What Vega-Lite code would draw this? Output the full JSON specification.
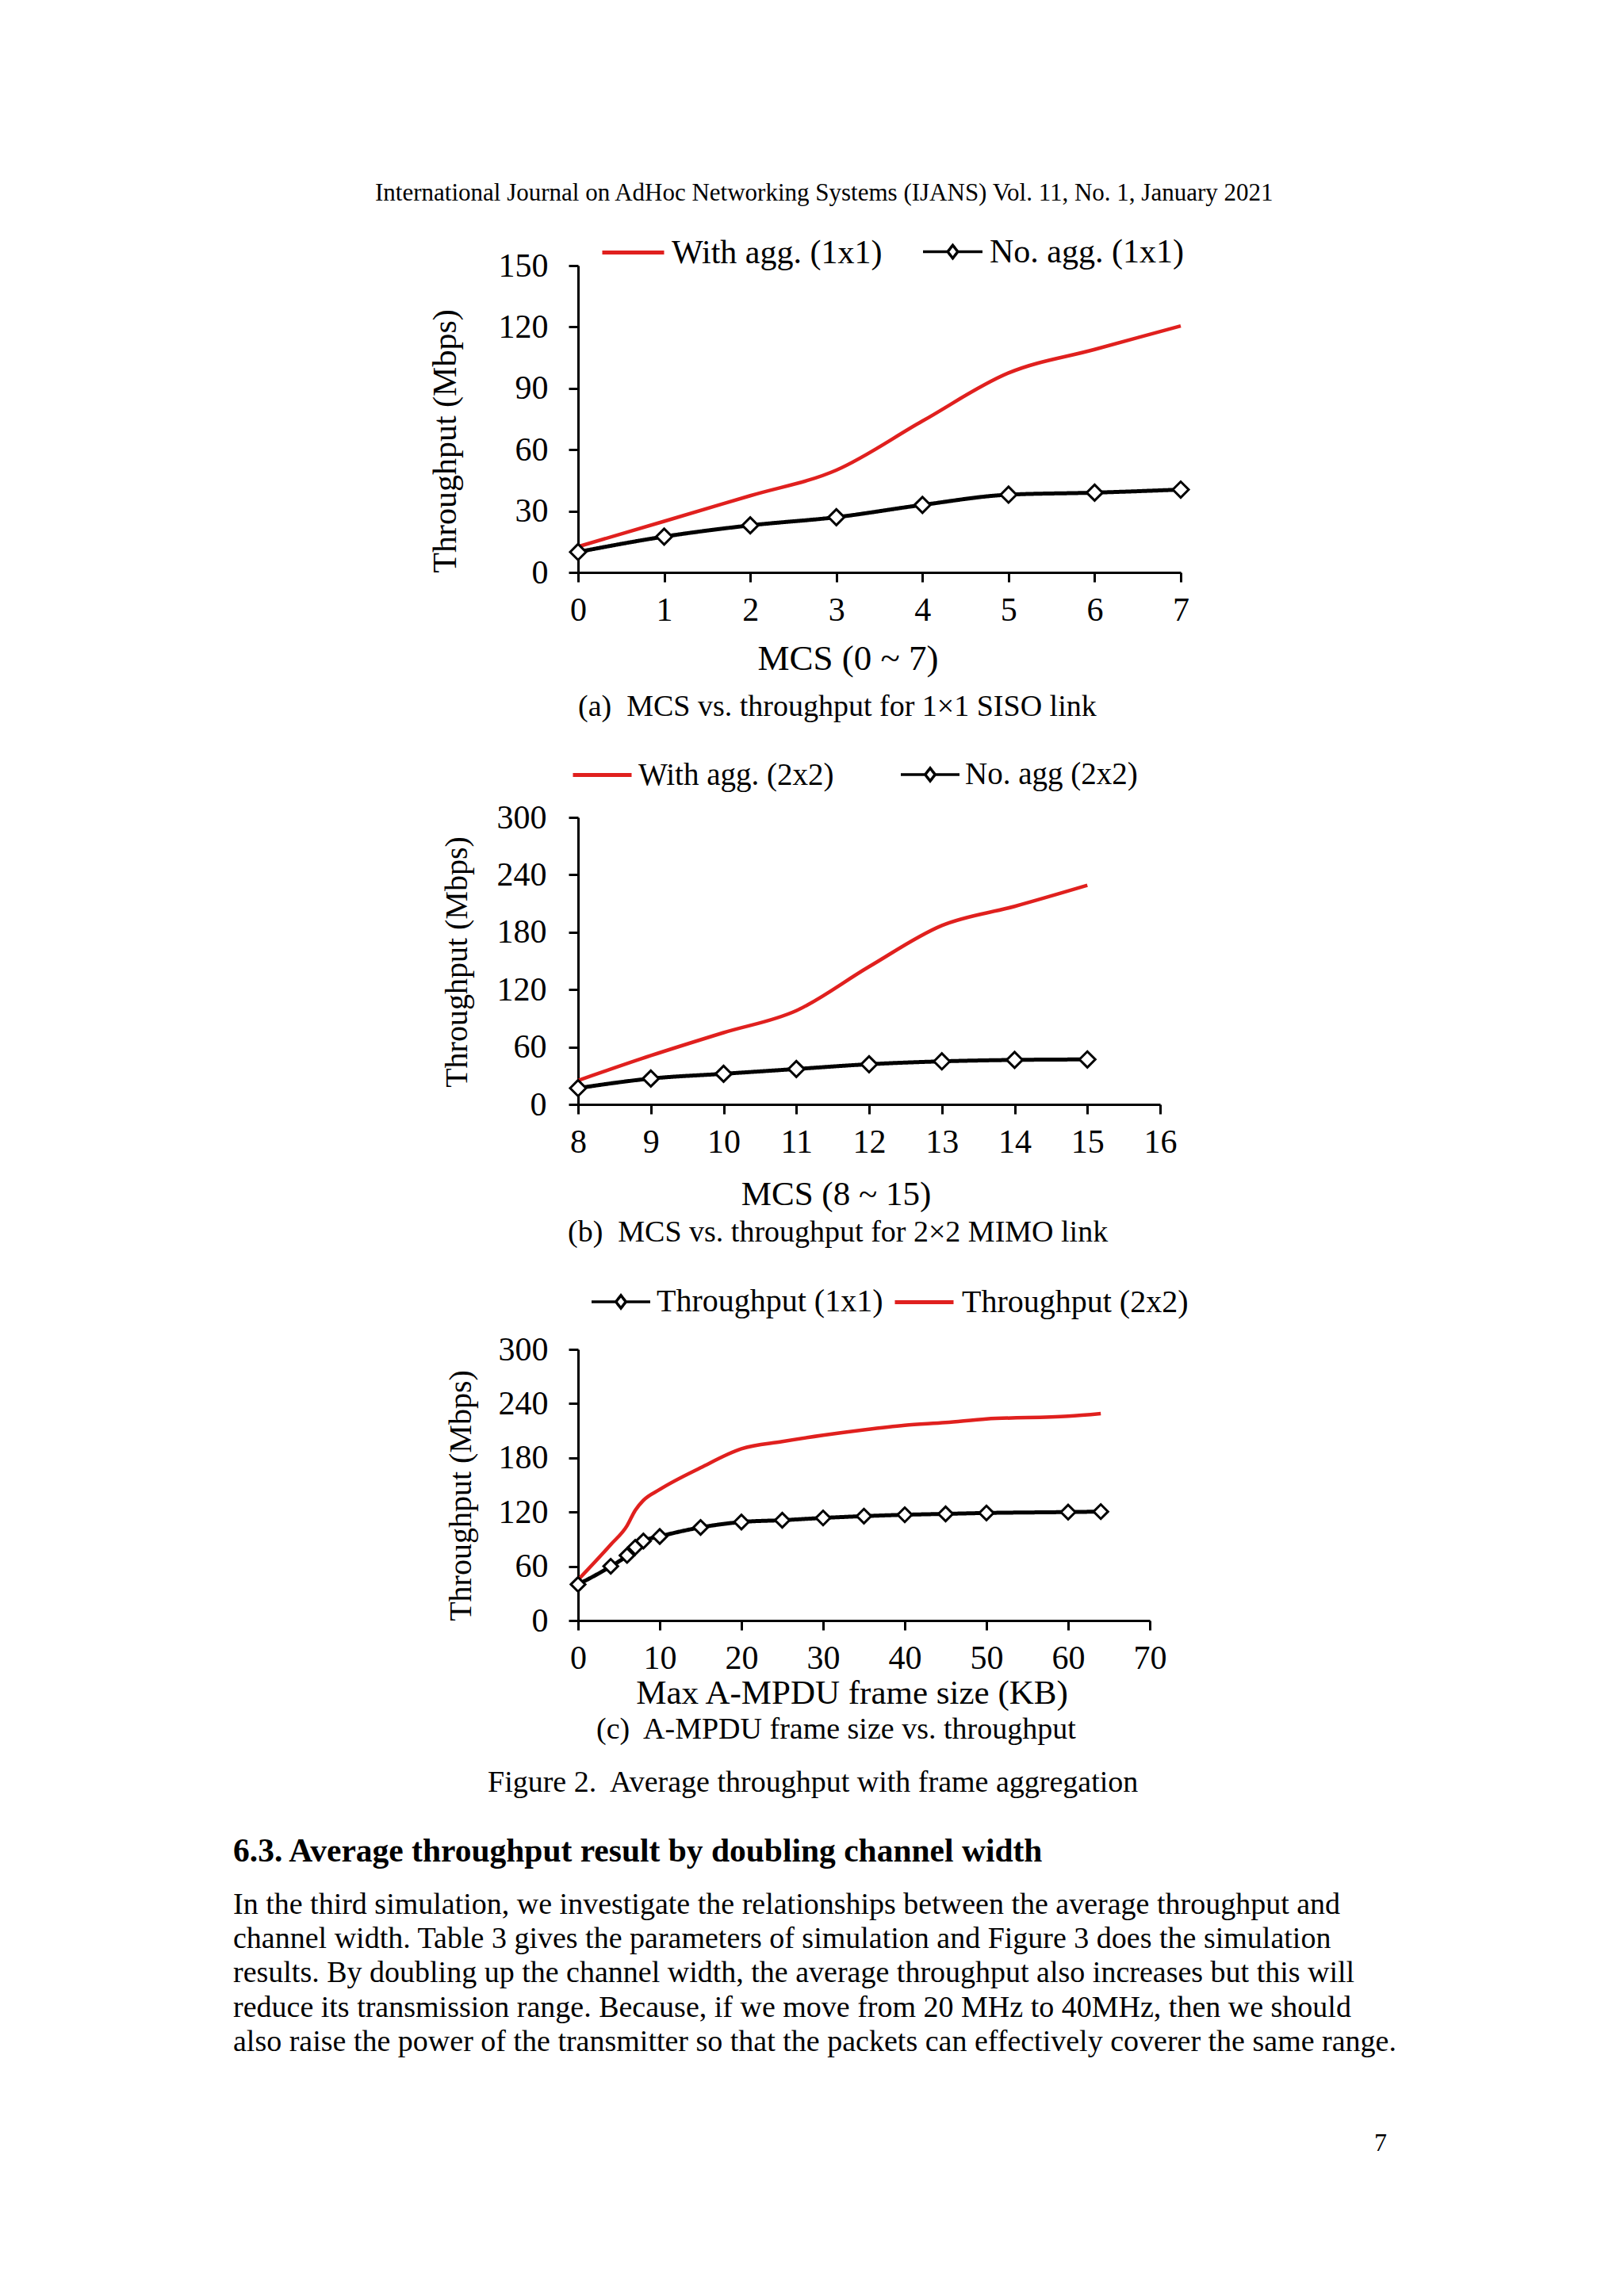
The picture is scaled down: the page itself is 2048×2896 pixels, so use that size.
{
  "$schema": "https://vega.github.io/schema/vega-lite/v6.json",
  "background": "white",
  "padding": {"left": 294, "top": 228, "right": 10, "bottom": 10},
  "title": {"text": "International Journal on AdHoc Networking Systems (IJANS) Vol. 11, No. 1, January 2021", "anchor": "start", "frame": "group", "dx": -256, "offset": 17, "fontSize": 31, "font": "Liberation Serif", "fontWeight": "normal", "color": "black"},
  "bounds": "flush",
  "spacing": 309,
  "resolve": {"scale": {"color": "independent", "strokeDash": "independent"}, "legend": {"color": "independent", "strokeDash": "independent"}},
  "config": {
    "view": {"stroke": null},
    "font": "Liberation Serif",
    "axis": {"domainColor": "black", "domainWidth": 3, "tickColor": "black", "tickWidth": 3, "tickSize": 12, "labelColor": "black", "titleColor": "black", "labelFont": "Liberation Serif", "titleFont": "Liberation Serif", "titleFontWeight": "normal", "grid": false, "labelFontSize": 42, "titleFontSize": 42, "labelPadding": 15, "labelFlush": false, "labelOverlap": false},
    "legend": {"labelFont": "Liberation Serif", "labelColor": "black", "padding": 0, "title": null, "direction": "horizontal", "labelLimit": 800},
    "title": {"font": "Liberation Serif", "fontWeight": "normal", "color": "black", "fontSize": 38}
  },
  "datasets": {
    "a_agg": [
      {"mcs": 0, "throughput": 12.6, "series": "With agg. (1x1)"},
      {"mcs": 1, "throughput": 25, "series": "With agg. (1x1)"},
      {"mcs": 2, "throughput": 37.5, "series": "With agg. (1x1)"},
      {"mcs": 3, "throughput": 50, "series": "With agg. (1x1)"},
      {"mcs": 4, "throughput": 74, "series": "With agg. (1x1)"},
      {"mcs": 5, "throughput": 97.5, "series": "With agg. (1x1)"},
      {"mcs": 6, "throughput": 109, "series": "With agg. (1x1)"},
      {"mcs": 7, "throughput": 120.5, "series": "With agg. (1x1)"}
    ],
    "a_noagg": [
      {"mcs": 0, "throughput": 10, "series": "No. agg. (1x1)"},
      {"mcs": 1, "throughput": 17.5, "series": "No. agg. (1x1)"},
      {"mcs": 2, "throughput": 23, "series": "No. agg. (1x1)"},
      {"mcs": 3, "throughput": 27, "series": "No. agg. (1x1)"},
      {"mcs": 4, "throughput": 33, "series": "No. agg. (1x1)"},
      {"mcs": 5, "throughput": 38, "series": "No. agg. (1x1)"},
      {"mcs": 6, "throughput": 39, "series": "No. agg. (1x1)"},
      {"mcs": 7, "throughput": 40.5, "series": "No. agg. (1x1)"}
    ],
    "b_agg": [
      {"mcs": 8, "throughput": 25, "series": "With agg. (2x2)"},
      {"mcs": 9, "throughput": 51, "series": "With agg. (2x2)"},
      {"mcs": 10, "throughput": 75, "series": "With agg. (2x2)"},
      {"mcs": 11, "throughput": 98, "series": "With agg. (2x2)"},
      {"mcs": 12, "throughput": 144, "series": "With agg. (2x2)"},
      {"mcs": 13, "throughput": 187, "series": "With agg. (2x2)"},
      {"mcs": 14, "throughput": 207, "series": "With agg. (2x2)"},
      {"mcs": 15, "throughput": 229, "series": "With agg. (2x2)"}
    ],
    "b_noagg": [
      {"mcs": 8, "throughput": 17, "series": "No. agg (2x2)"},
      {"mcs": 9, "throughput": 27, "series": "No. agg (2x2)"},
      {"mcs": 10, "throughput": 32, "series": "No. agg (2x2)"},
      {"mcs": 11, "throughput": 37, "series": "No. agg (2x2)"},
      {"mcs": 12, "throughput": 42, "series": "No. agg (2x2)"},
      {"mcs": 13, "throughput": 45, "series": "No. agg (2x2)"},
      {"mcs": 14, "throughput": 46.5, "series": "No. agg (2x2)"},
      {"mcs": 15, "throughput": 47, "series": "No. agg (2x2)"}
    ],
    "c_1x1": [
      {"size": 0, "throughput": 40, "series": "Throughput (1x1)"},
      {"size": 4, "throughput": 60, "series": "Throughput (1x1)"},
      {"size": 6, "throughput": 72, "series": "Throughput (1x1)"},
      {"size": 7, "throughput": 81, "series": "Throughput (1x1)"},
      {"size": 8, "throughput": 88, "series": "Throughput (1x1)"},
      {"size": 10, "throughput": 93, "series": "Throughput (1x1)"},
      {"size": 15, "throughput": 103, "series": "Throughput (1x1)"},
      {"size": 20, "throughput": 109, "series": "Throughput (1x1)"},
      {"size": 25, "throughput": 111, "series": "Throughput (1x1)"},
      {"size": 30, "throughput": 113.5, "series": "Throughput (1x1)"},
      {"size": 35, "throughput": 115.5, "series": "Throughput (1x1)"},
      {"size": 40, "throughput": 117, "series": "Throughput (1x1)"},
      {"size": 45, "throughput": 118, "series": "Throughput (1x1)"},
      {"size": 50, "throughput": 119, "series": "Throughput (1x1)"},
      {"size": 60, "throughput": 120, "series": "Throughput (1x1)"},
      {"size": 64, "throughput": 120.5, "series": "Throughput (1x1)"}
    ],
    "c_2x2": [
      {"size": 0, "throughput": 45, "series": "Throughput (2x2)"},
      {"size": 4, "throughput": 84, "series": "Throughput (2x2)"},
      {"size": 6, "throughput": 105, "series": "Throughput (2x2)"},
      {"size": 7, "throughput": 122, "series": "Throughput (2x2)"},
      {"size": 8, "throughput": 133, "series": "Throughput (2x2)"},
      {"size": 10, "throughput": 145, "series": "Throughput (2x2)"},
      {"size": 15, "throughput": 169, "series": "Throughput (2x2)"},
      {"size": 20, "throughput": 190, "series": "Throughput (2x2)"},
      {"size": 25, "throughput": 198, "series": "Throughput (2x2)"},
      {"size": 30, "throughput": 205, "series": "Throughput (2x2)"},
      {"size": 35, "throughput": 211, "series": "Throughput (2x2)"},
      {"size": 40, "throughput": 216, "series": "Throughput (2x2)"},
      {"size": 45, "throughput": 219, "series": "Throughput (2x2)"},
      {"size": 50, "throughput": 223, "series": "Throughput (2x2)"},
      {"size": 60, "throughput": 226, "series": "Throughput (2x2)"},
      {"size": 64, "throughput": 229, "series": "Throughput (2x2)"}
    ],
    "fig_caption": [{"line": 0, "text": "Figure 2.\u00a0 Average throughput with frame aggregation"}],
    "heading": [{"line": 1, "text": "6.3. Average throughput result by doubling channel width"}],
    "paragraph": [
      {"line": 2, "text": "In the third simulation, we investigate the relationships between the average throughput and"},
      {"line": 3, "text": "channel width. Table 3 gives the parameters of simulation and Figure 3 does the simulation"},
      {"line": 4, "text": "results. By doubling up the channel width, the average throughput also increases but this will"},
      {"line": 5, "text": "reduce its transmission range. Because, if we move from 20 MHz to 40MHz, then we should"},
      {"line": 6, "text": "also raise the power of the transmitter so that the packets can effectively coverer the same range."}
    ],
    "page_number": [{"line": 9, "text": "7"}]
  },
  "vconcat": [
    {
      "width": 760,
      "height": 387,
      "title": {"text": "(a)\u00a0 MCS vs. throughput for 1×1 SISO link", "orient": "bottom", "anchor": "start", "frame": "group", "offset": 20, "fontSize": 38},
      "encoding": {
        "x": {"field": "mcs", "type": "quantitative", "scale": {"domain": [0, 7], "nice": false}, "axis": {"values": [0, 1, 2, 3, 4, 5, 6, 7], "format": "d", "title": "MCS (0 ~ 7)", "titleFontSize": 45, "titleX": 340, "titlePadding": 18}},
        "y": {"field": "throughput", "type": "quantitative", "scale": {"domain": [0, 150], "nice": false}, "axis": {"values": [0, 30, 60, 90, 120, 150], "title": "Throughput (Mbps)", "titleY": 221, "titlePadding": 45, "labelPadding": 26}}
      },
      "layer": [
        {
          "data": {"name": "a_agg"},
          "mark": {"type": "line", "interpolate": "monotone", "strokeWidth": 4.5},
          "encoding": {"color": {"field": "series", "type": "nominal", "scale": {"domain": ["With agg. (1x1)"], "range": ["#e0201e"]}, "legend": {"orient": "none", "legendX": 28, "legendY": -58, "symbolType": "stroke", "symbolSize": 6084, "symbolStrokeWidth": 5, "labelFontSize": 42, "labelOffset": 7}}}
        },
        {
          "data": {"name": "a_noagg"},
          "mark": {"type": "line", "interpolate": "monotone", "strokeWidth": 5, "color": "black"},
          "encoding": {"strokeDash": {"field": "series", "type": "nominal", "scale": {"domain": ["No. agg. (1x1)"], "range": [[1, 0]]}, "legend": {"orient": "none", "legendX": 433, "legendY": -57, "symbolType": "M-1,0H-0.17M0.17,0H1M0,-0.22L0.17,0L0,0.22L-0.17,0Z", "symbolSize": 5625, "symbolStrokeWidth": 3.5, "symbolStrokeColor": "black", "symbolFillColor": "white", "labelFontSize": 42, "labelOffset": 7}}}
        },
        {
          "data": {"name": "a_noagg"},
          "mark": {"type": "point", "shape": "diamond", "filled": true, "fill": "white", "stroke": "black", "strokeWidth": 3, "size": 400, "opacity": 1}
        }
      ]
    },
    {
      "width": 734,
      "height": 362,
      "title": {"text": "(b)\u00a0 MCS vs. throughput for 2×2 MIMO link", "orient": "bottom", "anchor": "start", "frame": "group", "dx": -13, "offset": 8, "fontSize": 38},
      "encoding": {
        "x": {"field": "mcs", "type": "quantitative", "scale": {"domain": [8, 16], "nice": false, "zero": false}, "axis": {"values": [8, 9, 10, 11, 12, 13, 14, 15, 16], "format": "d", "title": "MCS (8 ~ 15)", "titleFontSize": 43, "titleX": 325, "titlePadding": 24}},
        "y": {"field": "throughput", "type": "quantitative", "scale": {"domain": [0, 300], "nice": false}, "axis": {"values": [0, 60, 120, 180, 240, 300], "title": "Throughput (Mbps)", "titleFontSize": 40, "titleY": 182, "titlePadding": 30, "labelPadding": 28}}
      },
      "layer": [
        {
          "data": {"name": "b_agg"},
          "mark": {"type": "line", "interpolate": "monotone", "strokeWidth": 4.5},
          "encoding": {"color": {"field": "series", "type": "nominal", "scale": {"domain": ["With agg. (2x2)"], "range": ["#e0201e"]}, "legend": {"orient": "none", "legendX": -9, "legendY": -93, "symbolType": "stroke", "symbolSize": 5476, "symbolStrokeWidth": 5, "labelFontSize": 39, "labelOffset": 6}}}
        },
        {
          "data": {"name": "b_noagg"},
          "mark": {"type": "line", "interpolate": "monotone", "strokeWidth": 5, "color": "black"},
          "encoding": {"strokeDash": {"field": "series", "type": "nominal", "scale": {"domain": ["No. agg (2x2)"], "range": [[1, 0]]}, "legend": {"orient": "none", "legendX": 405, "legendY": -93, "symbolType": "M-1,0H-0.17M0.17,0H1M0,-0.22L0.17,0L0,0.22L-0.17,0Z", "symbolSize": 5476, "symbolStrokeWidth": 3.5, "symbolStrokeColor": "black", "symbolFillColor": "white", "labelFontSize": 39, "labelOffset": 5}}}
        },
        {
          "data": {"name": "b_noagg"},
          "mark": {"type": "point", "shape": "diamond", "filled": true, "fill": "white", "stroke": "black", "strokeWidth": 3, "size": 400, "opacity": 1}
        }
      ]
    },
    {
      "width": 721,
      "height": 342,
      "title": {"text": "(c)\u00a0 A-MPDU frame size vs. throughput", "orient": "bottom", "anchor": "start", "frame": "group", "dx": 23, "offset": 6, "fontSize": 38},
      "encoding": {
        "x": {"field": "size", "type": "quantitative", "scale": {"domain": [0, 70], "nice": false}, "axis": {"values": [0, 10, 20, 30, 40, 50, 60, 70], "format": "d", "title": "Max A-MPDU frame size (KB)", "titleFontSize": 43, "titleX": 345, "titlePadding": 2}},
        "y": {"field": "throughput", "type": "quantitative", "scale": {"domain": [0, 300], "nice": false}, "axis": {"values": [0, 60, 120, 180, 240, 300], "title": "Throughput (Mbps)", "titleFontSize": 40, "titleY": 184, "titlePadding": 27, "labelPadding": 26}}
      },
      "layer": [
        {
          "data": {"name": "c_2x2"},
          "mark": {"type": "line", "interpolate": "monotone", "strokeWidth": 4.5},
          "encoding": {"color": {"field": "series", "type": "nominal", "scale": {"domain": ["Throughput (2x2)"], "range": ["#e0201e"]}, "legend": {"orient": "none", "legendX": 397, "legendY": -99, "symbolType": "stroke", "symbolSize": 5476, "symbolStrokeWidth": 5, "labelFontSize": 40, "labelOffset": 8}}}
        },
        {
          "data": {"name": "c_1x1"},
          "mark": {"type": "line", "interpolate": "monotone", "strokeWidth": 5, "color": "black"},
          "encoding": {"strokeDash": {"field": "series", "type": "nominal", "scale": {"domain": ["Throughput (1x1)"], "range": [[1, 0]]}, "legend": {"orient": "none", "legendX": 15, "legendY": -99, "symbolType": "M-1,0H-0.17M0.17,0H1M0,-0.22L0.17,0L0,0.22L-0.17,0Z", "symbolSize": 5476, "symbolStrokeWidth": 3.5, "symbolStrokeColor": "black", "symbolFillColor": "white", "labelFontSize": 40, "labelOffset": 6}}}
        },
        {
          "data": {"name": "c_1x1"},
          "mark": {"type": "point", "shape": "diamond", "filled": true, "fill": "white", "stroke": "black", "strokeWidth": 3, "size": 330, "opacity": 1}
        }
      ]
    },
    {
      "width": 1025,
      "height": 433,
      "encoding": {
        "y": {"field": "line", "type": "quantitative", "scale": {"domain": [0, 10], "reverse": true, "nice": false}, "axis": null},
        "text": {"field": "text", "type": "nominal"}
      },
      "layer": [
        {"data": {"name": "fig_caption"}, "mark": {"type": "text", "align": "left", "baseline": "middle", "x": -114, "dy": -104, "fontSize": 38, "font": "Liberation Serif", "color": "black"}},
        {"data": {"name": "heading"}, "mark": {"type": "text", "align": "left", "baseline": "middle", "x": -435, "dy": -60, "fontSize": 41.5, "fontWeight": "bold", "font": "Liberation Serif", "color": "black"}},
        {"data": {"name": "paragraph"}, "mark": {"type": "text", "align": "left", "baseline": "middle", "x": -435, "dy": -37, "fontSize": 38, "font": "Liberation Serif", "color": "black"}},
        {"data": {"name": "page_number"}, "mark": {"type": "text", "align": "center", "baseline": "middle", "x": 1012, "dy": -40, "fontSize": 32, "font": "Liberation Serif", "color": "black"}}
      ]
    }
  ]
}
